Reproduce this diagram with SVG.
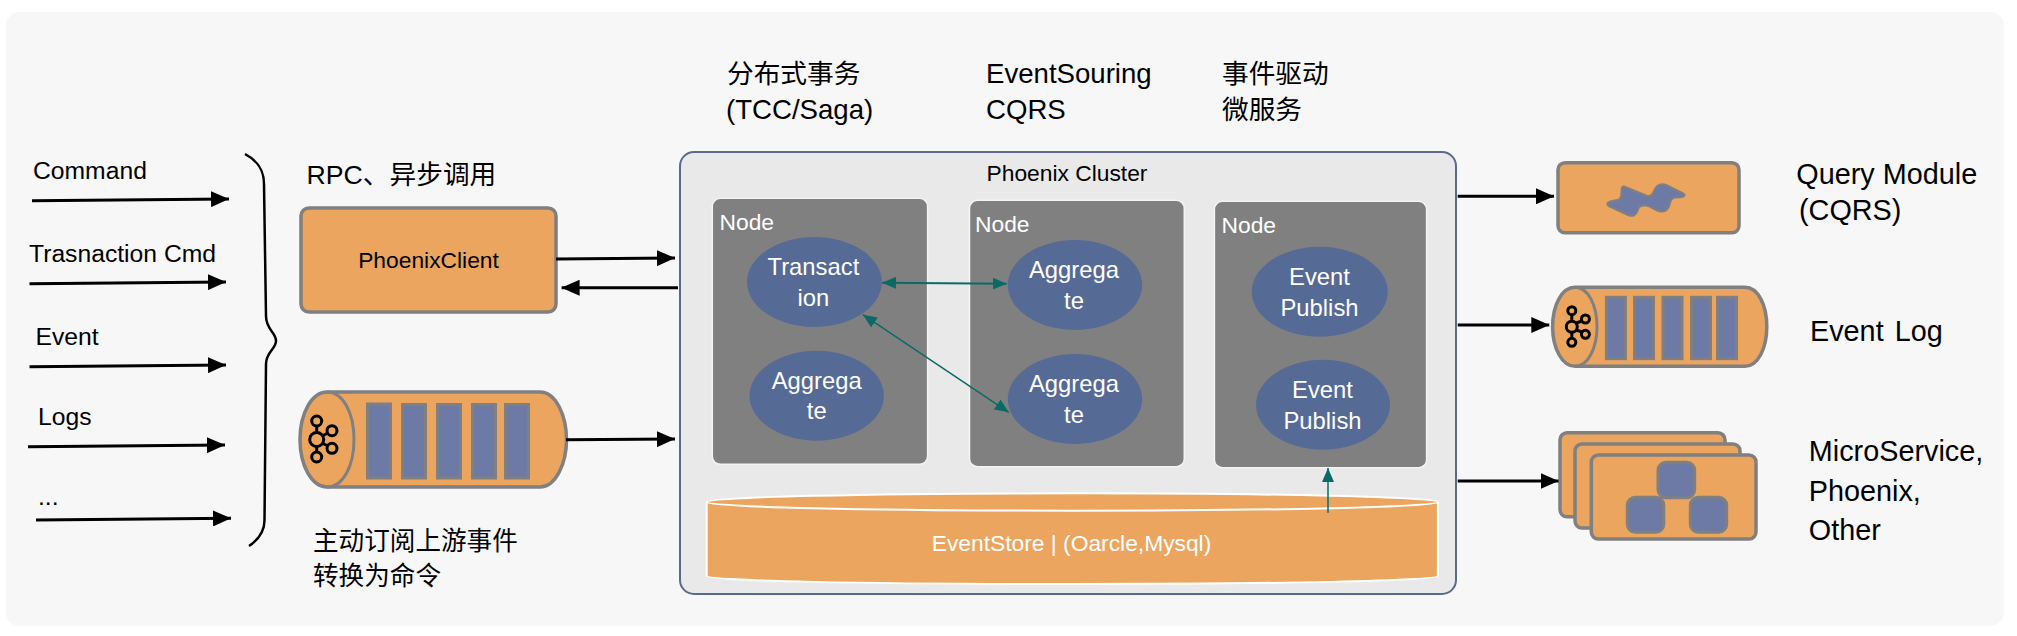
<svg xmlns="http://www.w3.org/2000/svg" width="2017" height="636" viewBox="0 0 2017 636">
<style>
text{font-family:"Liberation Sans","Noto Sans CJK SC",Arial,sans-serif;fill:#000}
.w{fill:#fff}
.m{text-anchor:middle}
.t24{font-size:24.7px}.t26{font-size:25.6px}.t27{font-size:26.7px}.t28{font-size:27.6px}.t22{font-size:22.8px}.t24c{font-size:23.8px}.t29{font-size:28.8px}
.or{fill:#EBA55F;stroke:#808080;stroke-width:3.5}
.bar{fill:#6C7AA5;stroke:#808080;stroke-width:3}
.nd{fill:#808080;stroke:#F4F4F4;stroke-width:1.5}
.ci{fill:#566A96}
.k{fill:none;stroke:#000;stroke-width:3}
.bl{stroke:#000;stroke-width:3;fill:none;marker-end:url(#a)}
.tl{stroke:#0B6A66;fill:none}
</style>
<defs>
<marker id="a" markerUnits="userSpaceOnUse" markerWidth="18" markerHeight="16" refX="18" refY="8" orient="auto"><path d="M0 0L18 8L0 16Z" fill="#000"/></marker>
<marker id="te" markerUnits="userSpaceOnUse" markerWidth="14" markerHeight="12" refX="14" refY="6" orient="auto"><path d="M0 0L14 6L0 12Z" fill="#0B6A66"/></marker>
<marker id="ts" markerUnits="userSpaceOnUse" markerWidth="14" markerHeight="12" refX="0" refY="6" orient="auto"><path d="M14 0L0 6L14 12Z" fill="#0B6A66"/></marker>
</defs>
<rect id="background" x="6" y="12" width="1998" height="614" rx="14" fill="#F7F7F7"/>

<g id="inputs">
<text class="t24" x="33" y="179">Command</text>
<text class="t24" x="29" y="262">Trasnaction Cmd</text>
<text class="t24" x="35.5" y="345">Event</text>
<text class="t24" x="38" y="425">Logs</text>
<text class="t24" x="38" y="505">...</text>
<path d="M245 154C258 161 264 170 264 184L266 316C266 330 276 332 276 341C276 349 266 352 266 364L264.500 520C264.500 532 258 540 249 546" fill="none" stroke="#000" stroke-width="2.500"/>
</g>
<text id="label-rpc" class="t27" x="306.500" y="184">RPC、异步调用</text>
<g id="phoenix-client">
<rect class="or" x="301" y="208" width="255" height="104" rx="8"/>
<text class="t22 m" x="428.500" y="268">PhoenixClient</text>
</g>
<g id="kafka-in">
<path class="or" d="M327 392H540C556 392 566.500 416 566.500 439.500C566.500 463 556 487 540 487H327C312 487 300 466 300 439.500C300 413 312 392 327 392Z"/>
<path d="M327 392C343 392 354 413 354 439.500C354 466 343 487 327 487" fill="none" stroke="#808080" stroke-width="3"/>
<rect class="bar" x="367.500" y="404" width="23" height="74"/>
<rect class="bar" x="402.500" y="404.500" width="23" height="73.500"/>
<rect class="bar" x="437.500" y="404.500" width="23" height="73.500"/>
<rect class="bar" x="472.500" y="404.500" width="23" height="73.500"/>
<rect class="bar" x="505.500" y="404.500" width="23" height="73.500"/>
<path class="k" d="M316.700 426V433M316.700 446V452M322 436L328 433M322 443L328 446"/>
<circle class="k" cx="316.700" cy="421" r="5"/><circle class="k" cx="316.700" cy="439.500" r="7"/><circle class="k" cx="332" cy="430.700" r="5"/><circle class="k" cx="332" cy="448.300" r="5"/><circle class="k" cx="316.700" cy="457" r="5"/>
</g>
<text id="label-subscribe" class="t26"><tspan x="313" y="550">主动订阅上游事件</tspan><tspan x="313" y="585">转换为命令</tspan></text>

<g id="labels-top">
<text class="t27" x="727" y="83">分布式事务</text>
<text class="t28" x="726" y="119">(TCC/Saga)</text>
<text class="t28" x="986" y="83">EventSouring</text>
<text class="t28" x="986" y="119">CQRS</text>
<text class="t27" x="1222" y="83">事件驱动</text>
<text class="t27" x="1222" y="119">微服务</text>
</g>

<g id="cluster">
<rect x="680" y="152" width="776" height="442" rx="14" fill="#E9E9E9" stroke="#5A6A8C" stroke-width="2"/>
<text class="t22 m" x="1067" y="180.700">Phoenix Cluster</text>
</g>
<g id="node-1">
<rect class="nd" x="712.300" y="198.300" width="215.300" height="266" rx="8"/>
<text class="t22 w" x="719.500" y="230">Node</text>
<ellipse class="ci" cx="814.400" cy="282" rx="67.400" ry="45"/>
<text class="t24c w m"><tspan x="813.400" y="275">Transact</tspan><tspan x="813.400" y="305.700">ion</tspan></text>
<ellipse class="ci" cx="816.700" cy="395.700" rx="67.200" ry="45"/>
<text class="t24c w m"><tspan x="816.700" y="389">Aggrega</tspan><tspan x="816.700" y="419.300">te</tspan></text>
</g>
<g id="node-2">
<rect class="nd" x="969.500" y="200.300" width="214.800" height="266.400" rx="8"/>
<text class="t22 w" x="975" y="232">Node</text>
<ellipse class="ci" cx="1075" cy="285" rx="67.200" ry="45"/>
<text class="t24c w m"><tspan x="1074" y="278">Aggrega</tspan><tspan x="1074" y="309">te</tspan></text>
<ellipse class="ci" cx="1075" cy="399" rx="67.200" ry="45"/>
<text class="t24c w m"><tspan x="1074" y="392">Aggrega</tspan><tspan x="1074" y="422.700">te</tspan></text>
</g>
<g id="node-3">
<rect class="nd" x="1214.400" y="201.300" width="212.200" height="266.400" rx="8"/>
<text class="t22 w" x="1221.500" y="232.700">Node</text>
<ellipse class="ci" cx="1319.700" cy="291.700" rx="68" ry="45"/>
<text class="t24c w m"><tspan x="1319.500" y="285">Event</tspan><tspan x="1319.500" y="315.700">Publish</tspan></text>
<ellipse class="ci" cx="1323" cy="404.700" rx="67" ry="45"/>
<text class="t24c w m"><tspan x="1322.500" y="398">Event</tspan><tspan x="1322.500" y="428.700">Publish</tspan></text>
</g>
<g id="eventstore">
<path d="M706.700 502C706.700 497 870 493.300 1072.300 493.300C1275 493.300 1437.900 497 1437.900 502V576C1437.900 581 1275 584 1072.300 584C870 584 706.700 581 706.700 576Z" fill="#EBA55F" stroke="#fff" stroke-width="2"/>
<path d="M706.700 502C706.700 507 870 510.700 1072.300 510.700C1275 510.700 1437.900 507 1437.900 502" fill="none" stroke="#fff" stroke-width="2"/>
<text class="t22 w m" x="1071.500" y="550.700">EventStore | (Oarcle,Mysql)</text>
</g>

<g id="query-module">
<rect class="or" x="1558" y="162.700" width="181" height="70" rx="7"/>
<path d="M1608.300 202.700C1606 204 1608 206 1612 207.500L1628 215C1633 217 1636 215 1637.500 211C1639 206 1641 205 1646 205.500C1651 206 1656 211 1661 211.500C1666 212 1669 208 1670 203C1671 198 1673 197.500 1680 197.300C1685 197 1686 194.500 1682 193L1667 185.500C1661 182.500 1657 185 1655 189C1652 196 1650 197 1646 195.500L1624 186.500C1622 186 1621.500 188 1621.500 192C1621.500 198 1620 200 1615 200.500C1611 201 1609 201.800 1608.300 202.700Z" fill="#6C7AA5" stroke="#808080" stroke-width="2"/>
<text class="t29"><tspan x="1796.300" y="184.300">Query Module</tspan><tspan x="1799" y="220">(CQRS)</tspan></text>
</g>
<g id="event-log">
<path class="or" d="M1575 287.300H1745C1758 287.300 1766.800 305 1766.800 326.800C1766.800 348 1758 366.300 1745 366.300H1575C1562 366.300 1552.600 348 1552.600 326.800C1552.600 305 1562 287.300 1575 287.300Z"/>
<path d="M1575 287.300C1588 287.300 1597 305 1597 326.800C1597 348 1588 366.300 1575 366.300" fill="none" stroke="#808080" stroke-width="3"/>
<rect class="bar" x="1606.400" y="297.300" width="19" height="61.400"/>
<rect class="bar" x="1634.500" y="297.300" width="19" height="61.400"/>
<rect class="bar" x="1663" y="297.300" width="19" height="61.400"/>
<rect class="bar" x="1691.500" y="297.300" width="19" height="61.400"/>
<rect class="bar" x="1717.500" y="297.300" width="19" height="61.400"/>
<path class="k" d="M1571.800 315V321M1571.800 333V338M1576 323L1582 321M1576 330L1582 332"/>
<circle class="k" cx="1571.800" cy="310.700" r="4"/><circle class="k" cx="1571.800" cy="326.700" r="5.500"/><circle class="k" cx="1585.400" cy="319" r="4"/><circle class="k" cx="1585.400" cy="334.300" r="4"/><circle class="k" cx="1571.800" cy="342.300" r="4"/>
<text class="t29" x="1810" y="341" word-spacing="3">Event Log</text>
</g>
<g id="microservice">
<rect class="or" x="1560" y="432.700" width="165" height="84" rx="7"/>
<rect class="or" x="1575" y="444" width="165" height="84" rx="7"/>
<rect class="or" x="1591.300" y="455" width="164.700" height="84" rx="7"/>
<rect class="bar" x="1658" y="462.300" width="36.700" height="35.400" rx="8"/>
<rect class="bar" x="1627.300" y="497.300" width="36.500" height="35" rx="8"/>
<rect class="bar" x="1690.300" y="497.300" width="36.400" height="35" rx="8"/>
<text class="t29"><tspan x="1808.800" y="460.700">MicroService,</tspan><tspan x="1808.800" y="500.700">Phoenix,</tspan><tspan x="1808.800" y="540">Other</tspan></text>
</g>

<g id="connectors">
<path class="bl" d="M32 200.700L229 199"/>
<path class="bl" d="M29.500 283.700L226 282"/>
<path class="bl" d="M29.500 366.700L226 365"/>
<path class="bl" d="M28 446.700L225 445"/>
<path class="bl" d="M36 520L231 518.300"/>
<path class="bl" d="M556 259L675 258"/>
<path class="bl" d="M678 287.700H561.600"/>
<path class="bl" d="M566 439.700L675 439"/>
<path class="bl" d="M1457.700 196.300H1554"/>
<path class="bl" d="M1457.700 325H1549.300"/>
<path class="bl" d="M1457.700 481H1558.500"/>
<path class="tl" stroke-width="2" marker-start="url(#ts)" marker-end="url(#te)" d="M882 282.700L1006.700 283.700"/>
<path class="tl" stroke-width="1.500" marker-start="url(#ts)" marker-end="url(#te)" d="M862.900 314.700L1008.800 412.300"/>
<path class="tl" stroke-width="1.500" marker-end="url(#te)" d="M1328 512.700V468"/>
</g>
</svg>
